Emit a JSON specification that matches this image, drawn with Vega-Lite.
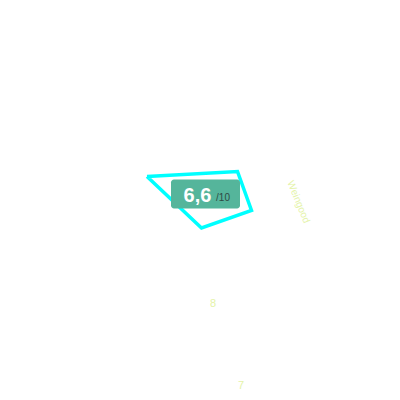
{
  "$schema": "https://vega.github.io/schema/vega-lite/v6.json",
  "width": 400,
  "height": 400,
  "autosize": {"type": "fit", "contains": "padding"},
  "padding": 0,
  "background": "white",
  "config": {"view": {"stroke": null}, "font": "Liberation Sans"},
  "datasets": {
    "shape": [
      {"order": 1, "x": 147, "y": 176.5},
      {"order": 2, "x": 237.5, "y": 171.5},
      {"order": 3, "x": 251.5, "y": 210.5},
      {"order": 4, "x": 201.5, "y": 228},
      {"order": 5, "x": 147, "y": 176.5}
    ],
    "labels": [
      {"label": "8", "x": 213, "y": 307, "angle": 0},
      {"label": "7", "x": 241, "y": 389, "angle": 0}
    ],
    "axisname": [
      {"label": "Weingood", "x": 298.5, "y": 202, "angle": 68}
    ],
    "badge": [
      {"x": 171, "x2": 240, "y": 179.5, "y2": 208.5, "score": "6,6", "sx": 197.5, "sy": 201.5, "of": "/10", "ox": 223, "oy": 200.5}
    ]
  },
  "encoding": {
    "x": {"type": "quantitative", "scale": {"domain": [0, 400], "nice": false, "zero": false}, "axis": null},
    "y": {"type": "quantitative", "scale": {"domain": [0, 400], "nice": false, "zero": false, "reverse": true}, "axis": null}
  },
  "layer": [
    {
      "data": {"name": "shape"},
      "mark": {"type": "line", "color": "#00ffff", "strokeWidth": 3.5, "strokeJoin": "miter"},
      "encoding": {
        "x": {"field": "x", "type": "quantitative"},
        "y": {"field": "y", "type": "quantitative"},
        "order": {"field": "order"}
      }
    },
    {
      "data": {"name": "badge"},
      "mark": {"type": "rect", "color": "#55b59b", "cornerRadius": 3},
      "encoding": {
        "x": {"field": "x", "type": "quantitative"},
        "x2": {"field": "x2"},
        "y": {"field": "y", "type": "quantitative"},
        "y2": {"field": "y2"}
      }
    },
    {
      "data": {"name": "badge"},
      "mark": {"type": "text", "color": "white", "fontSize": 20, "fontWeight": "bold", "align": "center", "baseline": "alphabetic"},
      "encoding": {
        "x": {"field": "sx", "type": "quantitative"},
        "y": {"field": "sy", "type": "quantitative"},
        "text": {"field": "score"}
      }
    },
    {
      "data": {"name": "badge"},
      "mark": {"type": "text", "color": "#2f4a44", "fontSize": 10, "align": "center", "baseline": "alphabetic"},
      "encoding": {
        "x": {"field": "ox", "type": "quantitative"},
        "y": {"field": "oy", "type": "quantitative"},
        "text": {"field": "of"}
      }
    },
    {
      "data": {"name": "labels"},
      "mark": {"type": "text", "color": "#e4f3a8", "fontSize": 11, "align": "center", "baseline": "alphabetic"},
      "encoding": {
        "x": {"field": "x", "type": "quantitative"},
        "y": {"field": "y", "type": "quantitative"},
        "text": {"field": "label"}
      }
    },
    {
      "data": {"name": "axisname"},
      "mark": {"type": "text", "color": "#e4f3a8", "fontSize": 10, "align": "center", "baseline": "middle", "angle": 68},
      "encoding": {
        "x": {"field": "x", "type": "quantitative"},
        "y": {"field": "y", "type": "quantitative"},
        "text": {"field": "label"}
      }
    }
  ]
}
